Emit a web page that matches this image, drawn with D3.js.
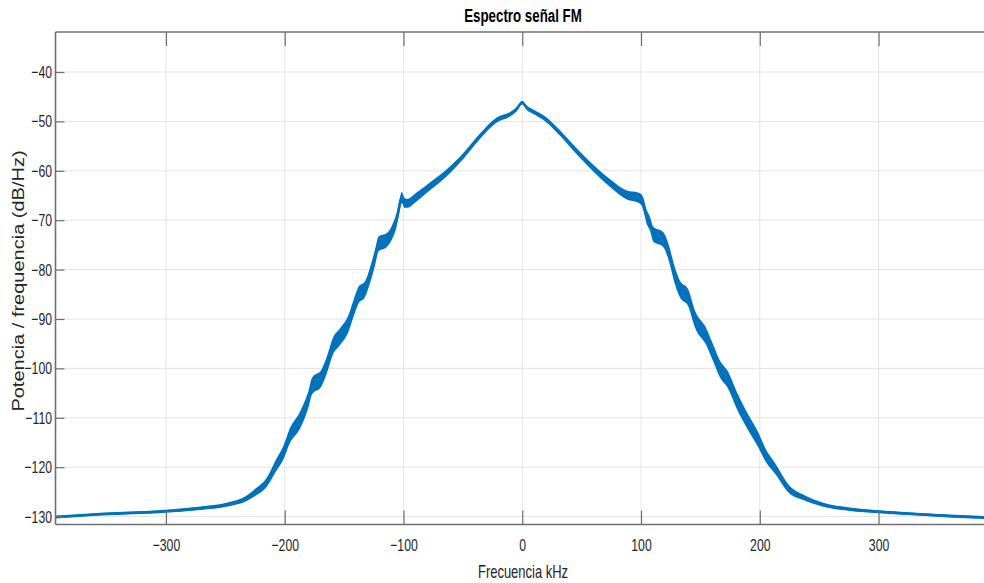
<!DOCTYPE html>
<html>
<head>
<meta charset="utf-8">
<script src="https://cdn.jsdelivr.net/npm/d3@7"></script>
<style>
  html, body { margin: 0; padding: 0; background: #ffffff; }
  svg { display: block; overflow: hidden; }
</style>
</head>
<body>
<div id="chart"></div>
<script>
// ---------------- data ----------------
const titleText = "Espectro señal FM";
const xLabelText = "Frecuencia kHz";
const yLabelText = "Potencia / frequencia (dB/Hz)";

const xTicks = [-300, -200, -100, 0, 100, 200, 300];
const yTicks = [-130, -120, -110, -100, -90, -80, -70, -60, -50, -40];

const xDomain = [-393, 393];
const yDomain = [-131.6, -31.9];

// frequency (kHz)
const freqKHz = [
  -393, -355, -300, -271, -249, -232, -226, -215, -207, -201,
  -196, -187, -180, -177, -169, -165, -159, -153.5, -146.5, -142,
  -138, -132.5, -128, -124, -121, -114, -110, -105.7, -103, -101.5,
  -99, -97, -89, -78, -64, -50, -36, -21.5, -10.5, -5,
  0, 4, 9, 20.5, 32, 46, 60, 74, 88, 97.5,
  100.5, 102, 104.7, 107.5, 110.3, 118.7, 123, 128.5, 132.7, 139.7,
  145.4, 155.2, 160.8, 166.4, 173.4, 180.5, 189, 199, 205, 212.7,
  225.3, 236.5, 253.4, 275.8, 300, 332, 360, 393
];
// power spectral density (dB/Hz), centre of the noisy trace
const psdDb = [
  -130.1, -129.5, -128.9, -128.3, -127.6, -126.3, -125.3, -123.0, -119.5, -117.0,
  -113.8, -110.4, -106.2, -103.6, -101.9, -99.6, -95.3, -93.6, -91.0, -87.8,
  -85.2, -84.0, -81.0, -77.6, -74.8, -74.0, -72.6, -69.8, -66.7, -65.4,
  -66.5, -66.6, -65.3, -63.2, -60.5, -57.1, -53.1, -49.7, -48.6, -47.6,
  -46.2, -47.3, -48.0, -49.7, -52.4, -56.1, -59.5, -62.5, -64.9, -65.4,
  -65.9, -66.8, -69.3, -70.7, -72.8, -73.9, -76.3, -81.2, -83.9, -85.7,
  -90.0, -93.7, -96.9, -100.1, -102.4, -106.4, -110.4, -114.6, -117.6, -120.2,
  -124.6, -126.1, -127.6, -128.5, -129.0, -129.5, -129.9, -130.2
];
// half-width of the noise band (dB) around the trace
const noiseDb = [
  0.3, 0.3, 0.3, 0.35, 0.4, 0.55, 0.7, 0.9, 1.2, 1.4,
  1.5, 1.7, 1.7, 1.7, 1.7, 1.7, 1.7, 1.7, 1.7, 1.7,
  1.7, 1.6, 1.6, 1.6, 1.5, 1.4, 1.4, 1.4, 1.3, 1.1,
  1.0, 0.9, 0.9, 0.8, 0.7, 0.6, 0.55, 0.5, 0.45, 0.45,
  0.4, 0.45, 0.45, 0.5, 0.55, 0.6, 0.7, 0.8, 0.9, 1.0,
  1.1, 1.3, 1.4, 1.4, 1.5, 1.5, 1.6, 1.7, 1.7, 1.7,
  1.7, 1.7, 1.7, 1.7, 1.7, 1.7, 1.6, 1.5, 1.3, 1.1,
  0.8, 0.55, 0.4, 0.35, 0.3, 0.3, 0.3, 0.3
];

// ---------------- layout ----------------
const W = 984, H = 583;
const plot = { left: 55.5, right: 989, top: 32, bottom: 524.5 };
const SX = 0.72; // horizontal squeeze of the glyphs in the reference
const lineColor = "#0072BD";
const axisColor = "#6f6f6f";
const textColor = "#262626";
const gridColor = "#e4e4e4";
const fontFam = "'Liberation Sans', Arial, 'DejaVu Sans', sans-serif";

const svg = d3.select("#chart").append("svg")
  .attr("width", W).attr("height", H);

const x = d3.scaleLinear().domain(xDomain).range([plot.left, plot.right]);
const y = d3.scaleLinear().domain(yDomain).range([plot.bottom, plot.top]);

// grid
const grid = svg.append("g");
grid.selectAll("line.gx").data(xTicks).join("line")
  .attr("x1", d => x(d)).attr("x2", d => x(d))
  .attr("y1", plot.top).attr("y2", plot.bottom)
  .attr("stroke", gridColor).attr("stroke-width", 1);
grid.selectAll("line.gy").data(yTicks).join("line")
  .attr("x1", plot.left).attr("x2", plot.right)
  .attr("y1", d => y(d)).attr("y2", d => y(d))
  .attr("stroke", gridColor).attr("stroke-width", 1);

// data trace
svg.append("clipPath").attr("id", "clip").append("rect")
  .attr("x", plot.left).attr("y", plot.top)
  .attr("width", plot.right - plot.left).attr("height", plot.bottom - plot.top);

const pts = freqKHz.map((f, i) => ({ f, v: psdDb[i], n: noiseDb[i] }));
const gData = svg.append("g").attr("clip-path", "url(#clip)");

gData.append("path").datum(pts)
  .attr("fill", lineColor)
  .attr("d", d3.area().curve(d3.curveMonotoneX)
    .x(d => x(d.f)).y0(d => y(d.v - d.n)).y1(d => y(d.v + d.n)));

gData.append("path").datum(pts)
  .attr("fill", "none").attr("stroke", lineColor).attr("stroke-width", 2.4)
  .attr("stroke-linejoin", "round")
  .attr("d", d3.line().curve(d3.curveMonotoneX).x(d => x(d.f)).y(d => y(d.v)));

// axes
const xAxis = d3.axisBottom(x).tickValues(xTicks).tickFormat(d3.format("d"))
  .tickSizeInner(-14).tickSizeOuter(0).tickPadding(14.5);
const gx = svg.append("g").attr("transform", `translate(0,${plot.bottom})`).call(xAxis);
gx.select(".domain").remove();
gx.selectAll(".tick line").attr("stroke", axisColor).attr("stroke-width", 1.2);
gx.selectAll(".tick text")
  .attr("fill", textColor).style("font-family", fontFam).style("font-size", "17px")
  .attr("transform", `scale(${SX},1)`);

const xTop = d3.axisTop(x).tickValues(xTicks).tickFormat("")
  .tickSizeInner(-14).tickSizeOuter(0);
const gxt = svg.append("g").attr("transform", `translate(0,${plot.top})`).call(xTop);
gxt.select(".domain").remove();
gxt.selectAll(".tick line").attr("stroke", axisColor).attr("stroke-width", 1.2);

const yAxis = d3.axisLeft(y).tickValues(yTicks).tickFormat(d3.format("d"))
  .tickSizeInner(-9).tickSizeOuter(0).tickPadding(3.5);
const gy = svg.append("g").attr("transform", `translate(${plot.left},0)`).call(yAxis);
gy.select(".domain").remove();
gy.selectAll(".tick line").attr("stroke", axisColor).attr("stroke-width", 1.2);
gy.selectAll(".tick text")
  .attr("fill", textColor).style("font-family", fontFam).style("font-size", "17px")
  .attr("x", -3.5 / SX)
  .attr("transform", `scale(${SX},1)`);

// frame lines (top, left, bottom)
svg.append("line").attr("x1", plot.left).attr("x2", plot.right)
  .attr("y1", plot.top).attr("y2", plot.top)
  .attr("stroke", axisColor).attr("stroke-width", 1.6);
svg.append("line").attr("x1", plot.left).attr("x2", plot.right)
  .attr("y1", plot.bottom).attr("y2", plot.bottom)
  .attr("stroke", axisColor).attr("stroke-width", 1.6);
svg.append("line").attr("x1", plot.left).attr("x2", plot.left)
  .attr("y1", plot.top).attr("y2", plot.bottom)
  .attr("stroke", axisColor).attr("stroke-width", 1.6);

// title
svg.append("text")
  .attr("transform", `translate(523,22) scale(${SX},1)`)
  .attr("text-anchor", "middle")
  .style("font-family", fontFam).style("font-size", "18.5px").style("font-weight", "bold")
  .attr("fill", "#000").text(titleText);

// x label
svg.append("text")
  .attr("transform", `translate(523,578) scale(${SX},1)`)
  .attr("text-anchor", "middle")
  .style("font-family", fontFam).style("font-size", "18px")
  .attr("fill", textColor).text(xLabelText);

// y label
svg.append("text")
  .attr("transform", `translate(24,281) scale(0.8,1) rotate(-90)`)
  .attr("text-anchor", "middle")
  .style("font-family", fontFam).style("font-size", "20px")
  .attr("fill", textColor).text(yLabelText);
</script>
</body>
</html>
